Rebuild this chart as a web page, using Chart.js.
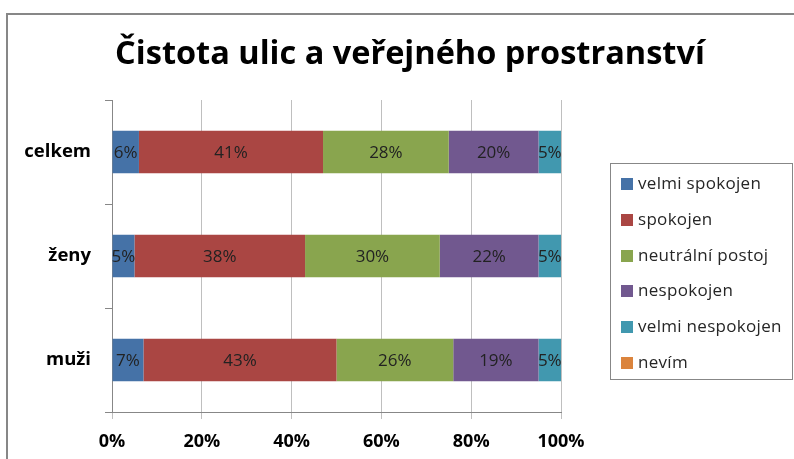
<!DOCTYPE html>
<html>
<head>
<meta charset="utf-8">
<script src="https://cdn.jsdelivr.net/npm/chart.js@4.4.1/dist/chart.umd.min.js"></script>
<style>
body { margin: 0; background: #fff; }
.wrap { position: relative; width: 794px; height: 459px; overflow: hidden; }
.frame { position: absolute; left: 6px; top: 13px; width: 900px; height: 600px;
  border-left: 2px solid #878787; border-top: 2px solid #878787; }
#myChart { position: absolute; left: 0; top: 0; }
.title { position: absolute; left: 0; top: 32px; width: 820px; text-align: center;
  font: bold 32.5px 'Open Sans', sans-serif; line-height: 40px; color: #000; }
.legend { position: absolute; left: 610px; top: 163px; width: 183px; height: 217px;
  border: 1px solid #878787; box-sizing: border-box; padding-top: 7px; }
.legend div { height: 35.8px; line-height: 35.8px; font: 17px 'Open Sans', sans-serif;
  letter-spacing: 0.3px; color: #262626; white-space: nowrap; padding-left: 10px; }
.legend span { display: inline-block; width: 12px; height: 12px; margin-right: 5px;
  vertical-align: -1px; }
</style>
</head>
<body>
<div class="wrap">
  <div class="frame"></div>
  <canvas id="myChart" width="794" height="459"></canvas>
  <div class="title">Čistota ulic a veřejného prostranství</div>
  <div class="legend" id="legend"></div>
</div>
<script>
var categories = ['celkem', 'ženy', 'muži'];
var seriesNames = ['velmi spokojen', 'spokojen', 'neutrální postoj', 'nespokojen', 'velmi nespokojen', 'nevím'];
var velmiSpokojen = [6, 5, 7];
var spokojen = [41, 38, 43];
var neutralni = [28, 30, 26];
var nespokojen = [20, 22, 19];
var velmiNespokojen = [5, 5, 5];
var nevim = [0, 0, 0];
var xTicks = [0, 20, 40, 60, 80, 100];
var colors = ['#4572A7', '#AA4643', '#89A54E', '#71588F', '#4198AF', '#DB843D'];

var seriesValues = [velmiSpokojen, spokojen, neutralni, nespokojen, velmiNespokojen, nevim];

// legend
var legend = document.getElementById('legend');
seriesNames.forEach(function(name, i) {
  var row = document.createElement('div');
  row.innerHTML = '<span style="background:' + colors[i] + '"></span>' + name;
  legend.appendChild(row);
});

// percentages inside the bars
var barLabels = {
  id: 'barLabels',
  afterDatasetsDraw: function(chart) {
    var ctx = chart.ctx;
    ctx.save();
    ctx.font = '17px "Open Sans", sans-serif';
    ctx.fillStyle = '#222';
    ctx.textAlign = 'center';
    ctx.textBaseline = 'middle';
    chart.data.datasets.forEach(function(ds, i) {
      var meta = chart.getDatasetMeta(i);
      meta.data.forEach(function(bar, j) {
        var v = ds.data[j];
        if (!v) return;
        ctx.fillText(v + '%', (bar.x + bar.base) / 2, bar.y + 1);
      });
    });
    ctx.restore();
  }
};

var ctx = document.getElementById('myChart').getContext('2d');
var myChart = new Chart(ctx, {
  type: 'bar',
  data: {
    labels: categories,
    datasets: seriesNames.map(function(name, i) {
      return {
        label: name,
        data: seriesValues[i],
        backgroundColor: colors[i],
        borderWidth: 0,
        barPercentage: 0.41,
        categoryPercentage: 1
      };
    })
  },
  options: {
    indexAxis: 'y',
    responsive: false,
    animation: false,
    layout: { padding: { left: 0, top: 100, right: 233, bottom: 0 } },
    plugins: {
      legend: { display: false },
      title: { display: false },
      tooltip: { enabled: false }
    },
    scales: {
      x: {
        stacked: true,
        min: 0,
        max: 100,
        afterFit: function(scale) { scale.height = 47; },
        afterBuildTicks: function(scale) {
          scale.ticks = xTicks.map(function(v) { return { value: v }; });
        },
        ticks: {
          callback: function(v) { return v + '%'; },
          font: { family: 'Open Sans', size: 18, weight: 'bold' },
          color: '#000',
          padding: 12,
          maxRotation: 0
        },
        grid: { color: '#bfbfbf', tickLength: 7, tickColor: '#bfbfbf' },
        border: { color: '#878787' }
      },
      y: {
        stacked: true,
        afterFit: function(scale) { scale.width = 112; },
        ticks: {
          font: { family: 'Open Sans', size: 18.5, weight: 'bold' },
          color: '#000',
          padding: 14
        },
        grid: { drawOnChartArea: false, tickLength: 7, color: '#878787' },
        border: { color: '#878787' }
      }
    }
  },
  plugins: [barLabels]
});
</script>
</body>
</html>
